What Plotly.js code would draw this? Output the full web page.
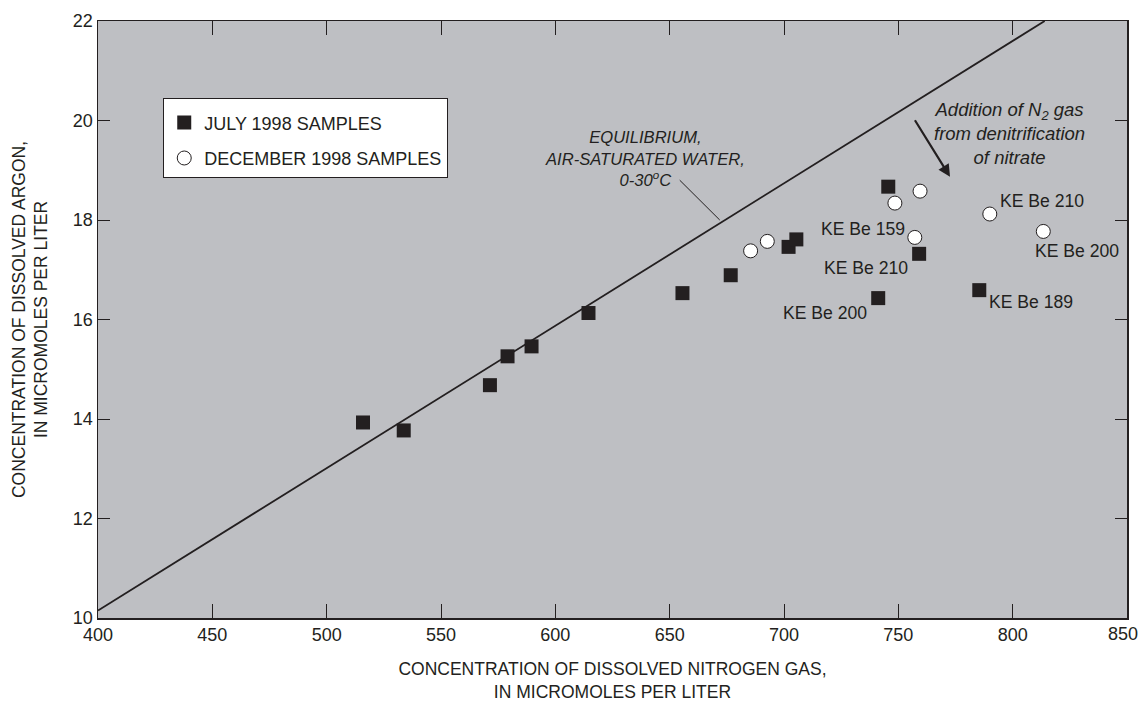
<!DOCTYPE html>
<html>
<head>
<meta charset="utf-8">
<script src="https://cdn.plot.ly/plotly-3.0.1.min.js"></script>
<style>
  html, body { margin: 0; padding: 0; background: #ffffff; }
  #chart { width: 1140px; height: 702px; }
</style>
</head>
<body>
<div id="chart"></div>
<script>
// ---- Data ----
const julyN  = [515.9, 533.7, 571.4, 579.1, 589.6, 614.5, 655.6, 676.7, 702.0, 705.4, 745.6, 759.1, 741.2, 785.4];
const julyAr = [13.93, 13.77, 14.68, 15.26, 15.46, 16.13, 16.53, 16.89, 17.46, 17.61, 18.67, 17.32, 16.43, 16.59];

const decN  = [685.4, 692.7, 748.5, 759.5, 757.2, 790.0, 813.4];
const decAr = [17.38, 17.57, 18.34, 18.58, 17.65, 18.12, 17.77];

// Equilibrium line, air-saturated water 0-30 C
const eqN  = [400, 814];
const eqAr = [10.15, 22.0];

// Well labels (text, nitrogen, argon)
const wellLabels = ['KE Be 159', 'KE Be 210', 'KE Be 200', 'KE Be 210', 'KE Be 200', 'KE Be 189'];
const wellN      = [757.2, 759.1, 741.2, 790.0, 813.4, 785.4];
const wellAr     = [17.65, 17.32, 16.43, 18.12, 17.77, 16.59];

const xTicks = [400, 450, 500, 550, 600, 650, 700, 750, 800, 850];
const yTicks = [10, 12, 14, 16, 18, 20, 22];

// ---- Styling ----
const INK = '#231f20';
const FONT = 'Liberation Sans, Arial, Helvetica, sans-serif';
const labelPlacement = [
  {xanchor: 'right', xshift: -8,  yshift: 8},
  {xanchor: 'right', xshift: -9,  yshift: -14},
  {xanchor: 'right', xshift: -9,  yshift: -15},
  {xanchor: 'left',  xshift: 8,   yshift: 13},
  {xanchor: 'left',  xshift: -10, yshift: -20},
  {xanchor: 'left',  xshift: 8,   yshift: -12}
];

const traces = [
  {
    x: eqN, y: eqAr, mode: 'lines', type: 'scatter',
    line: {color: INK, width: 1.8}, showlegend: false, hoverinfo: 'skip'
  },
  {
    x: julyN, y: julyAr, mode: 'markers', type: 'scatter',
    name: 'JULY 1998 SAMPLES', legendgroup: 'jul',
    marker: {symbol: 'square', size: 14, color: INK, line: {width: 0}}
  },
  {
    x: decN, y: decAr, mode: 'markers', type: 'scatter',
    name: 'DECEMBER 1998 SAMPLES', legendgroup: 'dec',
    marker: {symbol: 'circle', size: 14, color: '#ffffff', line: {color: INK, width: 1}}
  }
];

const annotations = wellLabels.map((t, i) => ({
  x: wellN[i], y: wellAr[i], xref: 'x', yref: 'y', text: t, showarrow: false,
  xanchor: labelPlacement[i].xanchor, yanchor: 'middle',
  xshift: labelPlacement[i].xshift, yshift: labelPlacement[i].yshift,
  font: {family: FONT, size: 17.6, color: INK}
}));

annotations.push({
  x: 639, y: 19.22, xref: 'x', yref: 'y', showarrow: false,
  text: 'EQUILIBRIUM,<br>AIR-SATURATED WATER,<br>0-30<sup>o</sup>C',
  align: 'center', xanchor: 'center', yanchor: 'middle',
  font: {family: FONT, size: 16.6, color: INK, style: 'italic'}
});
annotations.push({
  x: 798.5, y: 19.73, xref: 'x', yref: 'y', showarrow: false,
  text: 'Addition of N<sub>2</sub> gas<br>from denitrification<br>of nitrate',
  align: 'center', xanchor: 'center', yanchor: 'middle',
  font: {family: FONT, size: 18.5, color: INK, style: 'italic'}
});
// Arrow for denitrification
annotations.push({
  x: 772.6, y: 18.87, xref: 'x', yref: 'y', text: '', showarrow: true,
  ax: -36, ay: -58, arrowhead: 2, arrowsize: 1.1, arrowwidth: 2.2, arrowcolor: INK,
  standoff: 0, startstandoff: 0
});
// Last x tick label, kept inside the page like the reference
const lastX = xTicks[xTicks.length - 1];
annotations.push({
  x: lastX, y: 0, xref: 'x', yref: 'paper', text: String(lastX), showarrow: false,
  xanchor: 'right', yanchor: 'top', xshift: 13, yshift: -4,
  font: {family: FONT, size: 18, color: INK}
});

const layout = {
  width: 1140, height: 702,
  paper_bgcolor: '#ffffff', plot_bgcolor: '#bebfc3',
  margin: {l: 98, r: 13, t: 21, b: 84},
  font: {family: FONT, size: 18, color: INK},
  xaxis: {
    range: [400, 850], tickvals: xTicks,
    ticktext: xTicks.map((v, i) => i === xTicks.length - 1 ? '' : String(v)),
    ticks: 'inside', ticklen: 14, tickwidth: 1, tickcolor: INK,
    showline: true, linecolor: INK, linewidth: 1.5, mirror: 'ticks',
    showgrid: false, zeroline: false,
    tickfont: {family: FONT, size: 18, color: INK},
    title: {text: 'CONCENTRATION OF DISSOLVED NITROGEN GAS,<br>IN MICROMOLES PER LITER',
            font: {family: FONT, size: 17.5, color: INK}, standoff: 31}
  },
  yaxis: {
    range: [10, 22], tickvals: yTicks, ticktext: yTicks.map(String),
    ticks: 'inside', ticklen: 12, tickwidth: 1, tickcolor: INK,
    showline: true, linecolor: INK, linewidth: 1.5, mirror: 'ticks',
    showgrid: false, zeroline: false,
    tickfont: {family: FONT, size: 18, color: INK},
    title: {text: 'CONCENTRATION OF DISSOLVED ARGON,<br>IN MICROMOLES PER LITER',
            font: {family: FONT, size: 17.5, color: INK}, standoff: 20}
  },
  legend: {
    x: 0.0634, y: 0.8707, xanchor: 'left', yanchor: 'top',
    bgcolor: '#ffffff', bordercolor: INK, borderwidth: 1,
    font: {family: FONT, size: 18, color: INK},
    title: {text: '\u00a0', font: {family: FONT, size: 4, color: INK}},
    traceorder: 'grouped', tracegroupgap: 9
  },
  shapes: [
    {type: 'line', xref: 'x', yref: 'y', x0: 654.4, y0: 18.80, x1: 671.9, y1: 18.0,
     line: {color: INK, width: 1}}
  ],
  annotations: annotations,
  showlegend: true
};

Plotly.newPlot('chart', traces, layout, {displayModeBar: false, staticPlot: true});
</script>
</body>
</html>
